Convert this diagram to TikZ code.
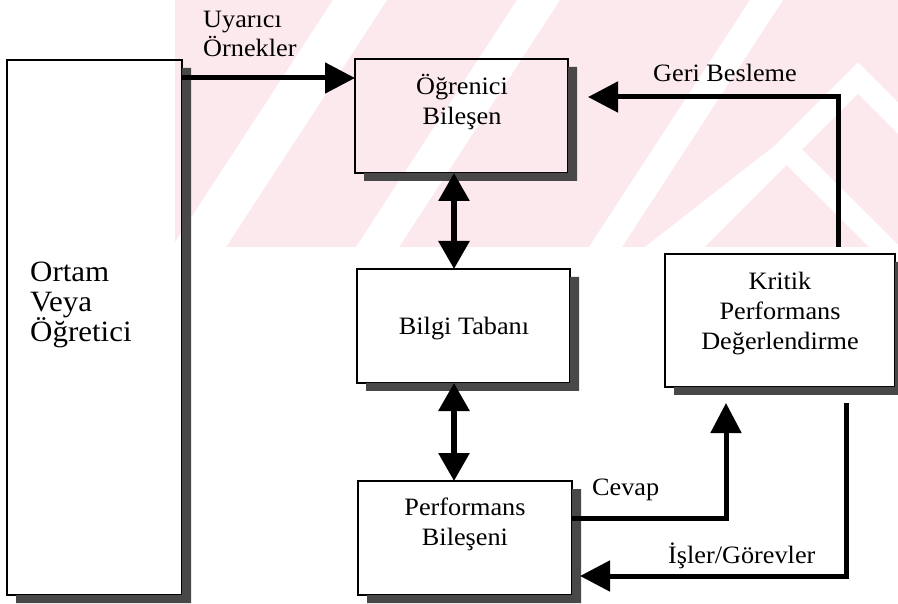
\documentclass[tikz,border=0pt]{standalone}
\usepackage{fontspec}
\setmainfont{Liberation Serif}[FakeStretch=1.05]
\usetikzlibrary{arrows.meta}
\definecolor{wmpink}{RGB}{252,233,237}
\definecolor{shadowc}{RGB}{72,72,72}
\newcommand\lblfont{\fontsize{25}{30}\selectfont}
\newcommand\bigfont{\fontsize{29.5}{35}\selectfont}
\newcommand\boxshadow[1]{%
  \fill[shadowc] ([yshift=-8pt]#1.north east) -- ([xshift=9pt,yshift=-8pt]#1.north east)
    -- ([xshift=9pt,yshift=-8pt]#1.south east) -- ([xshift=9pt,yshift=-8pt]#1.south west)
    -- ([xshift=9pt]#1.south west) -- (#1.south east) -- cycle;}
\tikzset{
  box/.style={draw=black, line width=1.3pt, inner sep=0pt, outer sep=0pt, anchor=north west},
  lbl/.style={inner sep=0pt, font=\lblfont, anchor=base},
  conn/.style={line width=5pt, -{Triangle[length=30pt,width=30pt]}},
  dbl/.style={line width=6pt, {Triangle[length=28pt,width=30pt]}-{Triangle[length=28pt,width=30pt]}},
  band/.style={fill=white}
}
\begin{document}
\begin{tikzpicture}[x=1pt,y=-1pt]
\useasboundingbox (0,0) rectangle (898,604);
\fill[white] (0,0) rectangle (898,604);
% watermark
\begin{scope}
  \clip (175,0) rectangle (898,247);
  \fill[wmpink] (175,0) rectangle (898,247);
  \fill[band] (333,0) -- (387,0) -- (226,247) -- (172,247) -- cycle;
  \fill[band] (517,0) -- (560,0) -- (399,247) -- (356,247) -- cycle;
  \fill[band] (750,0) -- (783,0) -- (622,247) -- (589,247) -- cycle;
  \draw[white, line width=22pt] (650,257) -- (787,150) -- (895,257);
  \draw[white, line width=22pt] (679,257) -- (858,78) -- (940,160);
\end{scope}
% boxes
\node[box, minimum width=175pt, minimum height=535pt] (ortam) at (7,60) {};
\node[box, minimum width=213pt, minimum height=114pt] (ogr) at (355,59) {};
\node[box, minimum width=213pt, minimum height=114pt] (bilgi) at (357,269) {};
\node[box, minimum width=230pt, minimum height=133pt] (kritik) at (665,254) {};
\node[box, minimum width=214pt, minimum height=114pt] (perf) at (358,481) {};
\boxshadow{ortam}
\boxshadow{ogr}
\boxshadow{bilgi}
\boxshadow{kritik}
\boxshadow{perf}
% box texts
\node[lbl, anchor=base west, font=\bigfont] (o1) at (30,282) {Ortam};
\node[lbl, anchor=base west, font=\bigfont] (o2) at (30,312) {Veya};
\node[lbl, anchor=base west, font=\bigfont] (o3) at (30,342) {Öğretici};
\node[lbl] (g1) at (462,95) {Öğrenici};
\node[lbl] (g2) at (462,125) {Bileşen};
\node[lbl] (b1) at (464,335) {Bilgi Tabanı};
\node[lbl] (k1) at (780,290) {Kritik};
\node[lbl] (k2) at (780,320) {Performans};
\node[lbl] (k3) at (780,350) {Değerlendirme};
\node[lbl] (p1) at (465,515) {Performans};
\node[lbl] (p2) at (465,545) {Bileşeni};
% connectors
\coordinate (ax) at (454,0);
\draw[conn] ([yshift=-18pt]ortam.north east) -- ([yshift=-19pt]ogr.north west);
\draw[dbl] (ogr.south -| ax) -- (bilgi.north -| ax);
\draw[dbl] (bilgi.south -| ax) -- (perf.north -| ax);
\coordinate (gbs) at ([xshift=58pt,yshift=7pt]kritik.north);
\coordinate (gbe) at ([xshift=20pt,yshift=19pt]ogr.east);
\draw[conn] (gbs) |- (gbe);
\coordinate (cvs) at ([yshift=20pt]perf.east);
\coordinate (cve) at ([xshift=-54pt,yshift=-16pt]kritik.south);
\draw[conn] (cvs) -| (cve);
\coordinate (iss) at ([xshift=66pt,yshift=-16pt]kritik.south);
\coordinate (ise) at ([xshift=8pt,yshift=-38pt]perf.east);
\draw[conn] (iss) |- (ise);
% connector labels
\node[lbl, anchor=base west] (u1) at (203,28) {Uyarıcı};
\node[lbl, anchor=base west] (u2) at (203,57) {Örnekler};
\node[lbl] (gl) at (725,82) {Geri Besleme};
\node[lbl, anchor=base west] (cl) at (592,495) {Cevap};
\node[lbl, anchor=base west] (il) at (668,563) {İşler/Görevler};
\end{tikzpicture}
\end{document}
